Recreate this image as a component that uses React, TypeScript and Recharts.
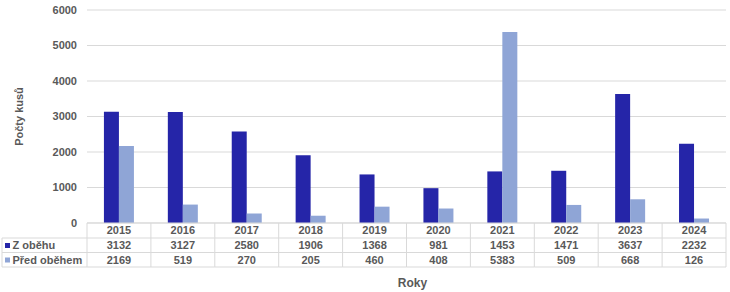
import React from "react";
import { BarChart, Bar, XAxis, YAxis, CartesianGrid } from "recharts";

const years = ["2015", "2016", "2017", "2018", "2019", "2020", "2021", "2022", "2023", "2024"];
const zObehu = [3132, 3127, 2580, 1906, 1368, 981, 1453, 1471, 3637, 2232];
const predObehem = [2169, 519, 270, 205, 460, 408, 5383, 509, 668, 126];
const seriesNames = ["Z oběhu", "Před oběhem"];
const seriesColors = ["#2525A8", "#8FA5D6"];
const yTicks = [0, 1000, 2000, 3000, 4000, 5000, 6000];

const data = years.map((y, i) => ({ year: y, z: zObehu[i], p: predObehem[i] }));

const W = 730;
const H = 292;
const M = { top: 10, right: 4, bottom: 0, left: 0 };
const Y_AXIS_W = 87;
const X_AXIS_H = 69;
const FONT = "'Liberation Sans', Arial, sans-serif";
const TXT = "#595959";
const LINE = "#D9D9D9";
const ROW = [15, 29.5, 44];

const cellW = (W - M.left - M.right - Y_AXIS_W) / years.length;

const TableTick = (props: any) => {
  const { x, y, payload } = props;
  const i = payload.index;
  const y0 = y;
  const left = x - cellW / 2;
  const right = x + cellW / 2;
  const textStyle = { fontFamily: FONT, fontSize: 11, fontWeight: 700, fill: TXT } as any;
  const rows = [years[i], String(zObehu[i]), String(predObehem[i])];
  const centers = [7.5, 22.5, 37];
  return (
    <g>
      {ROW.map((r, k) => (
        <line key={"h" + k} x1={left} x2={right} y1={y0 + r} y2={y0 + r} stroke={LINE} />
      ))}
      <line x1={right} x2={right} y1={y0} y2={y0 + ROW[2]} stroke={LINE} />
      {i === 0 && <line x1={left} x2={left} y1={y0} y2={y0 + ROW[2]} stroke={LINE} />}
      {rows.map((t, k) => (
        <text key={"t" + k} x={x} y={y0 + centers[k]} dy="0.36em" textAnchor="middle" style={textStyle}>
          {t}
        </text>
      ))}
      {i === 0 && (
        <g>
          {ROW.map((r, k) => (
            <line key={"lh" + k} x1={2} x2={left} y1={y0 + r} y2={y0 + r} stroke={LINE} />
          ))}
          <line x1={2} x2={2} y1={y0 + ROW[0]} y2={y0 + ROW[2]} stroke={LINE} />
          {seriesNames.map((n, k) => (
            <g key={"lg" + k}>
              <rect x={5} y={y0 + centers[k + 1] - 2.5} width={5} height={5} fill={seriesColors[k]} />
              <text x={12.5} y={y0 + centers[k + 1]} dy="0.36em" textAnchor="start" style={textStyle}>
                {n}
              </text>
            </g>
          ))}
        </g>
      )}
    </g>
  );
};

const YLabel = (props: any) => {
  const vb = props.viewBox || {};
  const cx = 19;
  const cy = vb.y + vb.height / 2;
  return (
    <text
      x={cx}
      y={cy}
      transform={`rotate(-90 ${cx} ${cy})`}
      textAnchor="middle"
      dy="0.36em"
      style={{ fontFamily: FONT, fontSize: 11, fontWeight: 700, fill: TXT }}
    >
      Počty kusů
    </text>
  );
};

const XLabel = (props: any) => {
  const vb = props.viewBox || {};
  const cx = vb.x + vb.width / 2 + 6;
  return (
    <text
      x={cx}
      y={286.5}
      textAnchor="middle"
      style={{ fontFamily: FONT, fontSize: 12, fontWeight: 700, fill: TXT }}
    >
      Roky
    </text>
  );
};

export default function App() {
  return (
    <div style={{ position: "absolute", left: 0, top: 0, width: W, height: H, background: "#fff" }}>
      <BarChart width={W} height={H} data={data} margin={M} barCategoryGap="26.5%" barGap={0}>
        <CartesianGrid vertical={false} stroke={LINE} />
        <XAxis
          dataKey="year"
          height={X_AXIS_H}
          interval={0}
          tickLine={false}
          tickSize={0}
          tickMargin={0}
          axisLine={{ stroke: LINE }}
          tick={<TableTick />}
          label={<XLabel />}
        />
        <YAxis
          width={Y_AXIS_W}
          domain={[0, 6000]}
          ticks={yTicks}
          interval={0}
          axisLine={false}
          tickLine={false}
          tickSize={0}
          tickMargin={10}
          tick={{ fontFamily: FONT, fontSize: 11, fontWeight: 700, fill: TXT }}
          label={<YLabel />}
        />
        <Bar dataKey="z" name={seriesNames[0]} fill={seriesColors[0]} isAnimationActive={false} />
        <Bar dataKey="p" name={seriesNames[1]} fill={seriesColors[1]} isAnimationActive={false} />
      </BarChart>
    </div>
  );
}
